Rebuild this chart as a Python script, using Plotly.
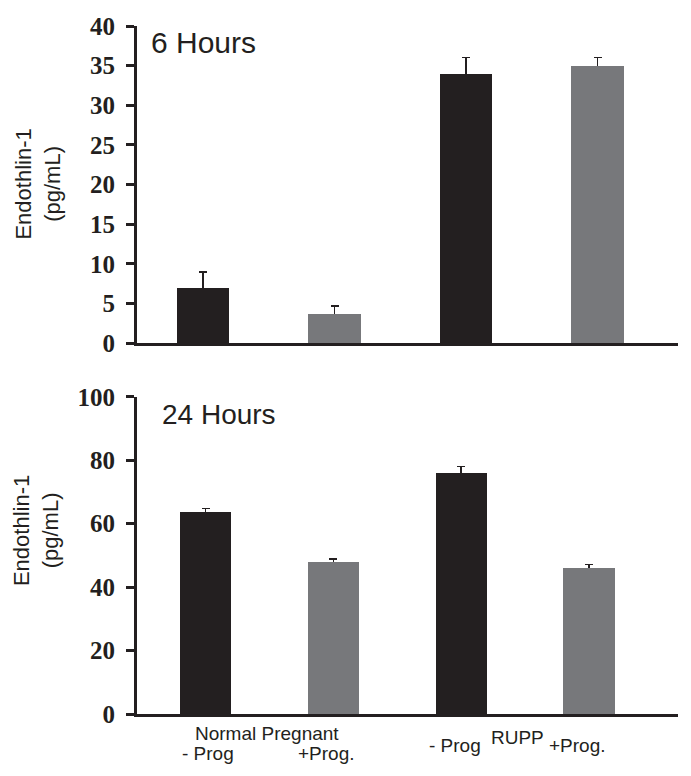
import plotly.graph_objects as go

# ---- data ----
groups = ["NP -Prog", "NP +Prog.", "RUPP -Prog", "RUPP +Prog."]
et1_6h = [7.0, 3.7, 34.0, 35.0]
err_6h = [2.0, 1.0, 2.0, 1.0]
et1_24h = [63.7, 48.0, 76.0, 46.0]
err_24h = [1.1, 0.9, 2.0, 1.1]
bar_colors = ["#231f20", "#77787b", "#231f20", "#77787b"]
y6_ticks = [0, 5, 10, 15, 20, 25, 30, 35, 40]
y24_ticks = [0, 20, 40, 60, 80, 100]

OFF = 8  # default page body margin
W, H = 691 - 2 * OFF, 776 - 2 * OFF
L, T = 137 - OFF, 22 - OFF
R = W - (678 - OFF)
B = H - (714 - OFF)
INK = "#231f20"


def px(xp):
    return (xp - OFF - L) / (W - L - R)


def py(yp):
    return (H - B - (yp - OFF)) / (H - T - B)


fig = go.Figure()
for vals, errs, xa, ya in [(et1_6h, err_6h, "x", "y"),
                           (et1_24h, err_24h, "x2", "y2")]:
    # error bars first (hidden bars), real bars drawn over their lower half
    fig.add_trace(go.Bar(
        x=groups, y=vals, width=0.4, xaxis=xa, yaxis=ya,
        marker=dict(color="rgba(0,0,0,0)", line=dict(width=0)),
        error_y=dict(type="data", array=errs, color=INK, thickness=1.5,
                     width=4),
        showlegend=False, hoverinfo="skip"))
    fig.add_trace(go.Bar(
        x=groups, y=vals, width=0.4, xaxis=xa, yaxis=ya,
        marker=dict(color=bar_colors, line=dict(width=0)),
        showlegend=False))

tickfont = dict(family="Liberation Serif, Times New Roman, serif", size=25,
                color=INK, weight="bold")
ycommon = dict(showline=True, linewidth=3, linecolor=INK, ticks="outside",
               ticklen=8, tickwidth=3, tickcolor=INK, showgrid=False,
               zeroline=False, tickfont=tickfont, ticklabelstandoff=6)
xcommon = dict(showline=True, linewidth=3, linecolor=INK, ticks="",
               showticklabels=False, showgrid=False, zeroline=False,
               type="category", categoryarray=groups, categoryorder="array")

fig.update_layout(
    width=W, height=H,
    margin=dict(l=L, r=R, t=T, b=B),
    paper_bgcolor="white", plot_bgcolor="white",
    barmode="overlay", bargap=0,
    xaxis=dict(domain=[0, 1], anchor="y", range=[-0.502, 3.612], **xcommon),
    yaxis=dict(domain=[py(341), 1], anchor="x", range=[0, 40],
               tickvals=y6_ticks, **ycommon),
    xaxis2=dict(domain=[0, 1], anchor="y2", range=[-0.536, 3.696], **xcommon),
    yaxis2=dict(domain=[0, py(395)], anchor="x2", range=[0, 100],
                tickvals=y24_ticks, **ycommon),
)

sans = "Liberation Sans, Arial, sans-serif"
ann = [
    dict(text="6 Hours", x=px(149), y=py(39), xanchor="left", yanchor="middle",
         font=dict(family=sans, size=30, color=INK)),
    dict(text="24 Hours", x=px(160), y=py(413), xanchor="left", yanchor="middle",
         font=dict(family=sans, size=28, color=INK)),
    dict(text="Endothlin-1<br>(pg/mL)", x=px(38.5), y=py(181), textangle=-90,
         xanchor="center", yanchor="middle",
         font=dict(family=sans, size=22, color=INK)),
    dict(text="Endothlin-1<br>(pg/mL)", x=px(36), y=py(530), textangle=-90,
         xanchor="center", yanchor="middle",
         font=dict(family=sans, size=22, color=INK)),
    dict(text="Normal Pregnant", x=px(267), y=py(734)),
    dict(text="- Prog", x=px(208), y=py(754)),
    dict(text="+Prog.", x=px(326), y=py(754)),
    dict(text="- Prog", x=px(454.5), y=py(746)),
    dict(text="RUPP", x=px(517.5), y=py(738)),
    dict(text="+Prog.", x=px(577.5), y=py(746)),
]
for a in ann:
    a.setdefault("xanchor", "center")
    a.setdefault("yanchor", "middle")
    a.setdefault("font", dict(family=sans, size=19, color=INK))
    a.update(xref="paper", yref="paper", showarrow=False)
fig.update_layout(annotations=ann)

fig.write_html("out.html")
